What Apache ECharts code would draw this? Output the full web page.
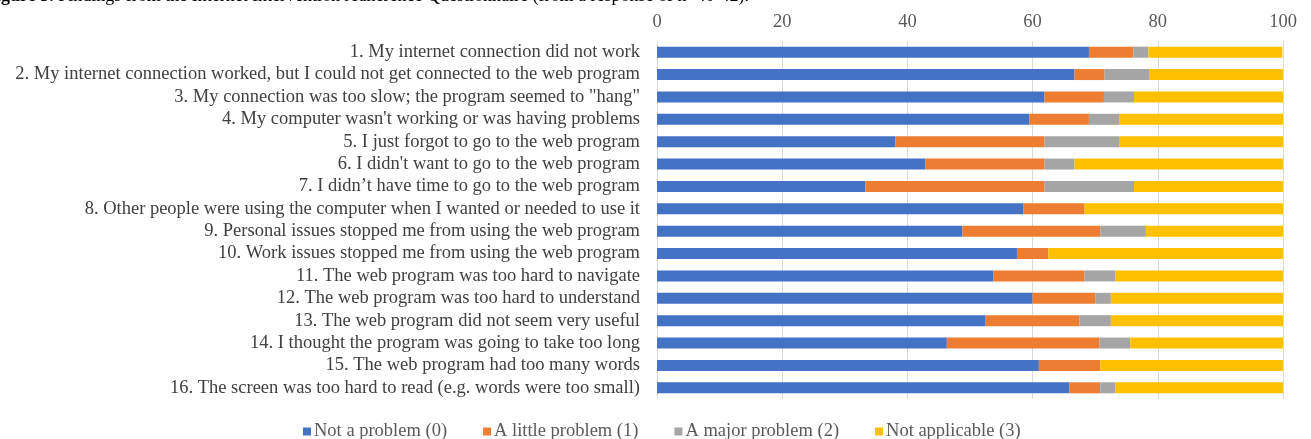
<!DOCTYPE html>
<html>
<head>
<meta charset="utf-8">
<script src="https://cdn.jsdelivr.net/npm/echarts@6/dist/echarts.min.js"></script>
<style>
html,body{margin:0;padding:0;background:#fff;}
#c{width:1311px;height:439px;}
</style>
</head>
<body>
<div id="c"></div>
<script>
var categories = [
  "1. My internet connection did not work",
  "2. My internet connection worked, but I could not get connected to the web program",
  "3. My connection was too slow; the program seemed to \"hang\"",
  "4. My computer wasn't working or was having problems",
  "5. I just forgot to go to the web program",
  "6. I didn't want to go to the web program",
  "7. I didn\u2019t have time to go to the web program",
  "8. Other people were using the computer when I wanted or needed to use it",
  "9. Personal issues stopped me from using the web program",
  "10. Work issues stopped me from using the web program",
  "11. The web program was too hard to navigate",
  "12. The web program was too hard to understand",
  "13. The web program did not seem very useful",
  "14. I thought the program was going to take too long",
  "15. The web program had too many words",
  "16. The screen was too hard to read (e.g. words were too small)"
];
var notAProblem    = [69.0, 66.7, 61.9, 59.5, 38.1, 42.9, 33.3, 58.5, 48.8, 57.5, 53.7, 60.0, 52.5, 46.3, 61.0, 65.9];
var littleProblem  = [7.1, 4.8, 9.5, 9.5, 23.8, 19.0, 28.6, 9.8, 22.0, 5.0, 14.6, 10.0, 15.0, 24.4, 9.8, 4.9];
var majorProblem   = [2.4, 7.1, 4.8, 4.8, 11.9, 4.8, 14.3, 0, 7.3, 0, 4.9, 2.5, 5.0, 4.9, 0, 2.4];
var notApplicable  = [21.4, 21.4, 23.8, 26.2, 26.2, 33.3, 23.8, 31.7, 22.0, 37.5, 26.8, 27.5, 27.5, 24.4, 29.3, 26.8];
var seriesNames = ["Not a problem (0)", "A little problem (1)", "A major problem (2)", "Not applicable (3)"];
var tickValues = [0, 20, 40, 60, 80, 100];

var colors = ["#4472C4", "#ED7D31", "#A5A5A5", "#FFC000"];
var dataSets = [notAProblem, littleProblem, majorProblem, notApplicable];
var font = "'Liberation Serif', 'Times New Roman', serif";

var chart = echarts.init(document.getElementById('c'), null, {renderer: 'canvas'});
chart.setOption({
  animation: false,
  textStyle: {fontFamily: font},
  color: colors,
  graphic: [{
    type: 'text',
    left: -15,
    top: -13,
    style: {
      text: '{b|Figure 3.} Findings from the Internet Intervention Adherence Questionnaire (from a response of n=40-42).',
      rich: {
        b: {fontWeight: 'bold', fontSize: 18, fontFamily: font, fill: '#000'}
      },
      fontSize: 18,
      fontFamily: font,
      fill: '#000'
    }
  }],
  grid: {left: 657, right: 28, top: 41, bottom: 40, containLabel: false},
  legend: {
    top: 417,
    left: 298,
    itemWidth: 8,
    itemHeight: 8,
    itemGap: 36,
    icon: 'rect',
    textStyle: {fontFamily: font, fontSize: 18.5, color: '#595959', padding: [0, 0, 0, -2]},
    data: seriesNames
  },
  xAxis: {
    type: 'value',
    position: 'top',
    min: tickValues[0],
    max: tickValues[tickValues.length - 1],
    interval: tickValues[1] - tickValues[0],
    axisLine: {show: false},
    axisTick: {show: false},
    axisLabel: {fontFamily: font, fontSize: 18.5, color: '#595959', margin: 9},
    splitLine: {show: true, lineStyle: {color: '#D9D9D9', width: 1}}
  },
  yAxis: {
    type: 'category',
    inverse: true,
    data: categories,
    axisLine: {show: false},
    axisTick: {show: false},
    axisLabel: {interval: 0, fontFamily: font, fontSize: 18.5, color: '#404040', margin: 17}
  },
  series: dataSets.map(function (d, i) {
    return {
      name: seriesNames[i],
      type: 'bar',
      stack: 'total',
      barWidth: 11,
      data: d,
      itemStyle: {color: colors[i]}
    };
  })
});
</script>
</body>
</html>
